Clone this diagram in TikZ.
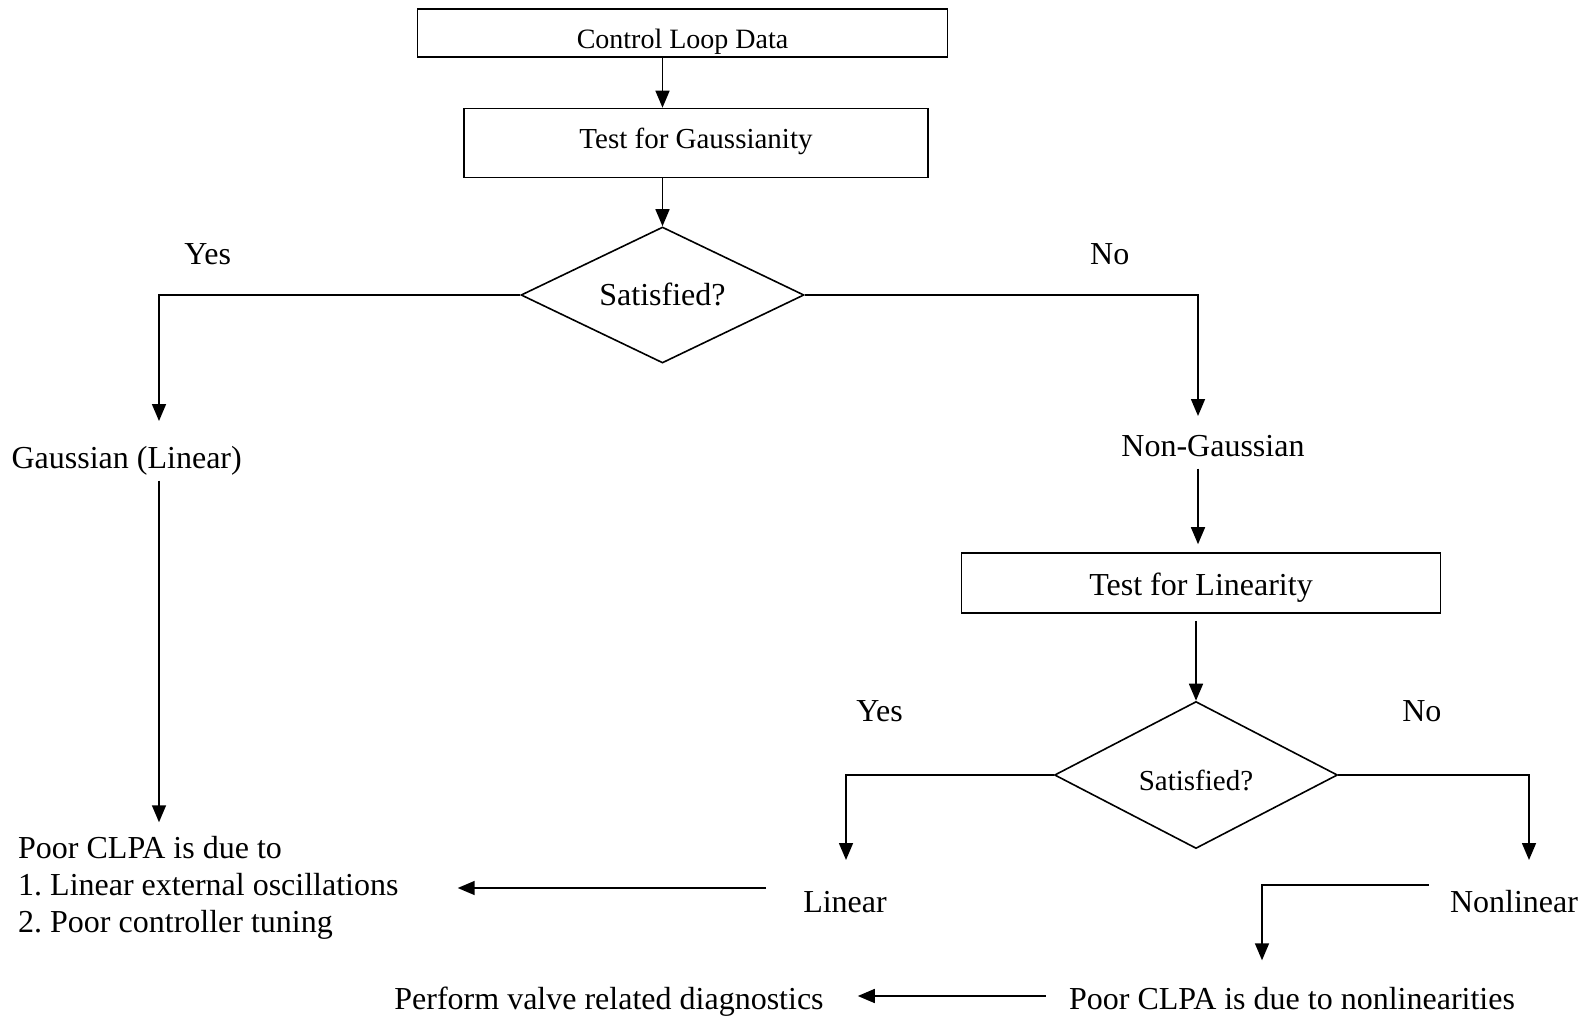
\documentclass[tikz,border=0pt]{standalone}
\usepackage{fontspec}
\setmainfont{Liberation Serif}
\frenchspacing
\usetikzlibrary{shapes.geometric, arrows.meta, calc}

\begin{document}
\begin{tikzpicture}[x=1pt, y=-1pt,
    lbl/.style={font=\fontsize{32}{37}\selectfont, text height=22pt, text depth=7pt, inner sep=0pt},
    box/.style={draw, line width=1.6pt},
    decision/.style={draw, diamond, shape aspect=2, line width=1.6pt, inner sep=0pt},
    link/.style={line width=1.6pt},
    arr/.style={line width=1.6pt, -{Triangle[length=17pt, width=14pt]}}]
        \useasboundingbox (0,0) rectangle (1589,1019);

        % Boxes
        \node[box, inner sep=0pt, font=\fontsize{28}{32}\selectfont, text height=31pt, text depth=0pt,
              minimum width=530pt, minimum height=48pt] (ctrl) at (682.5,33) {Control Loop Data};
        \node[box, lbl, font=\fontsize{29}{33}\selectfont, text height=18pt,
              minimum width=464pt, minimum height=69pt] (gtest) at (696,143) {Test for Gaussianity};
        \node[box, lbl, text height=32pt, minimum width=479pt, minimum height=60pt] (ltest) at (1201,583) {Test for Linearity};

        % Decisions
        \node[decision, lbl, text height=28pt, minimum width=283pt, minimum height=136pt] (sat1) at (662.5,295) {Satisfied?};
        \node[decision, lbl, font=\fontsize{29}{33}\selectfont, text height=37pt,
              minimum width=283pt, minimum height=147pt] (sat2) at (1196,775) {Satisfied?};

        % Branch labels
        \node[lbl] (yes1) at (207.7,257.4) {Yes};
        \node[lbl] (no1) at (1109.7,257.4) {No};
        \node[lbl] (yes2) at (879.6,714.4) {Yes};
        \node[lbl] (no2) at (1421.8,714.4) {No};

        % Outcomes
        \node[lbl] (gauss) at (126.7,461) {Gaussian (Linear)};
        \node[lbl] (nongauss) at (1213,449) {Non-Gaussian};
        \node[lbl] (lin) at (845,905) {Linear};
        \node[lbl] (nonlin) at (1514,905) {Nonlinear};
        \node[font=\fontsize{32}{37}\selectfont, inner sep=0pt, align=left, anchor=west] (poorlin) at (18,888)
            {Poor CLPA is due to\\1. Linear external oscillations\\2. Poor controller tuning};
        \node[lbl] (poornl) at (1292,1002) {Poor CLPA is due to nonlinearities};
        \node[lbl] (valve) at (609,1002) {Perform valve related diagnostics};

        % Arrow ends
        \coordinate (gtip) at (159,421);
        \coordinate (ngtip) at (1198,416);
        \coordinate (ltip) at (846,860);
        \coordinate (nltip) at (1529,860);

        % Main path
        \draw[arr] (ctrl.south -| sat1.north) -- (gtest.north -| sat1.north);
        \draw[arr] (gtest.south -| sat1.north) -- (sat1.north);
        \draw[arr] (sat1.west) -| (gtip);
        \draw[arr] (sat1.east) -| (ngtip);
        \draw[arr] ($(gauss.south -| gtip)+(0,5)$) -- ($(poorlin.north -| gtip)+(0,-14)$);
        \draw[arr] ($(nongauss.south -| ngtip)+(0,5)$) -- ($(ltest.north -| ngtip)+(0,-8)$);
        \draw[arr] ($(ltest.south -| sat2.north)+(0,7)$) -- (sat2.north);
        \draw[arr] (sat2.west) -| (ltip);
        \draw[arr] (sat2.east) -| (nltip);

        % Results
        \draw[arr] ($(lin.west)+(-37,-17)$) -- ($(poorlin.east)+(59,0)$);
        \draw[arr] ($(nonlin.west)+(-21,-20)$) -| ($(poornl.north)+(-30,-27)$);
        \draw[arr] ($(poornl.west)+(-23,-6)$) -- ($(valve.east)+(34,-6)$);
      \end{tikzpicture}
\end{document}
